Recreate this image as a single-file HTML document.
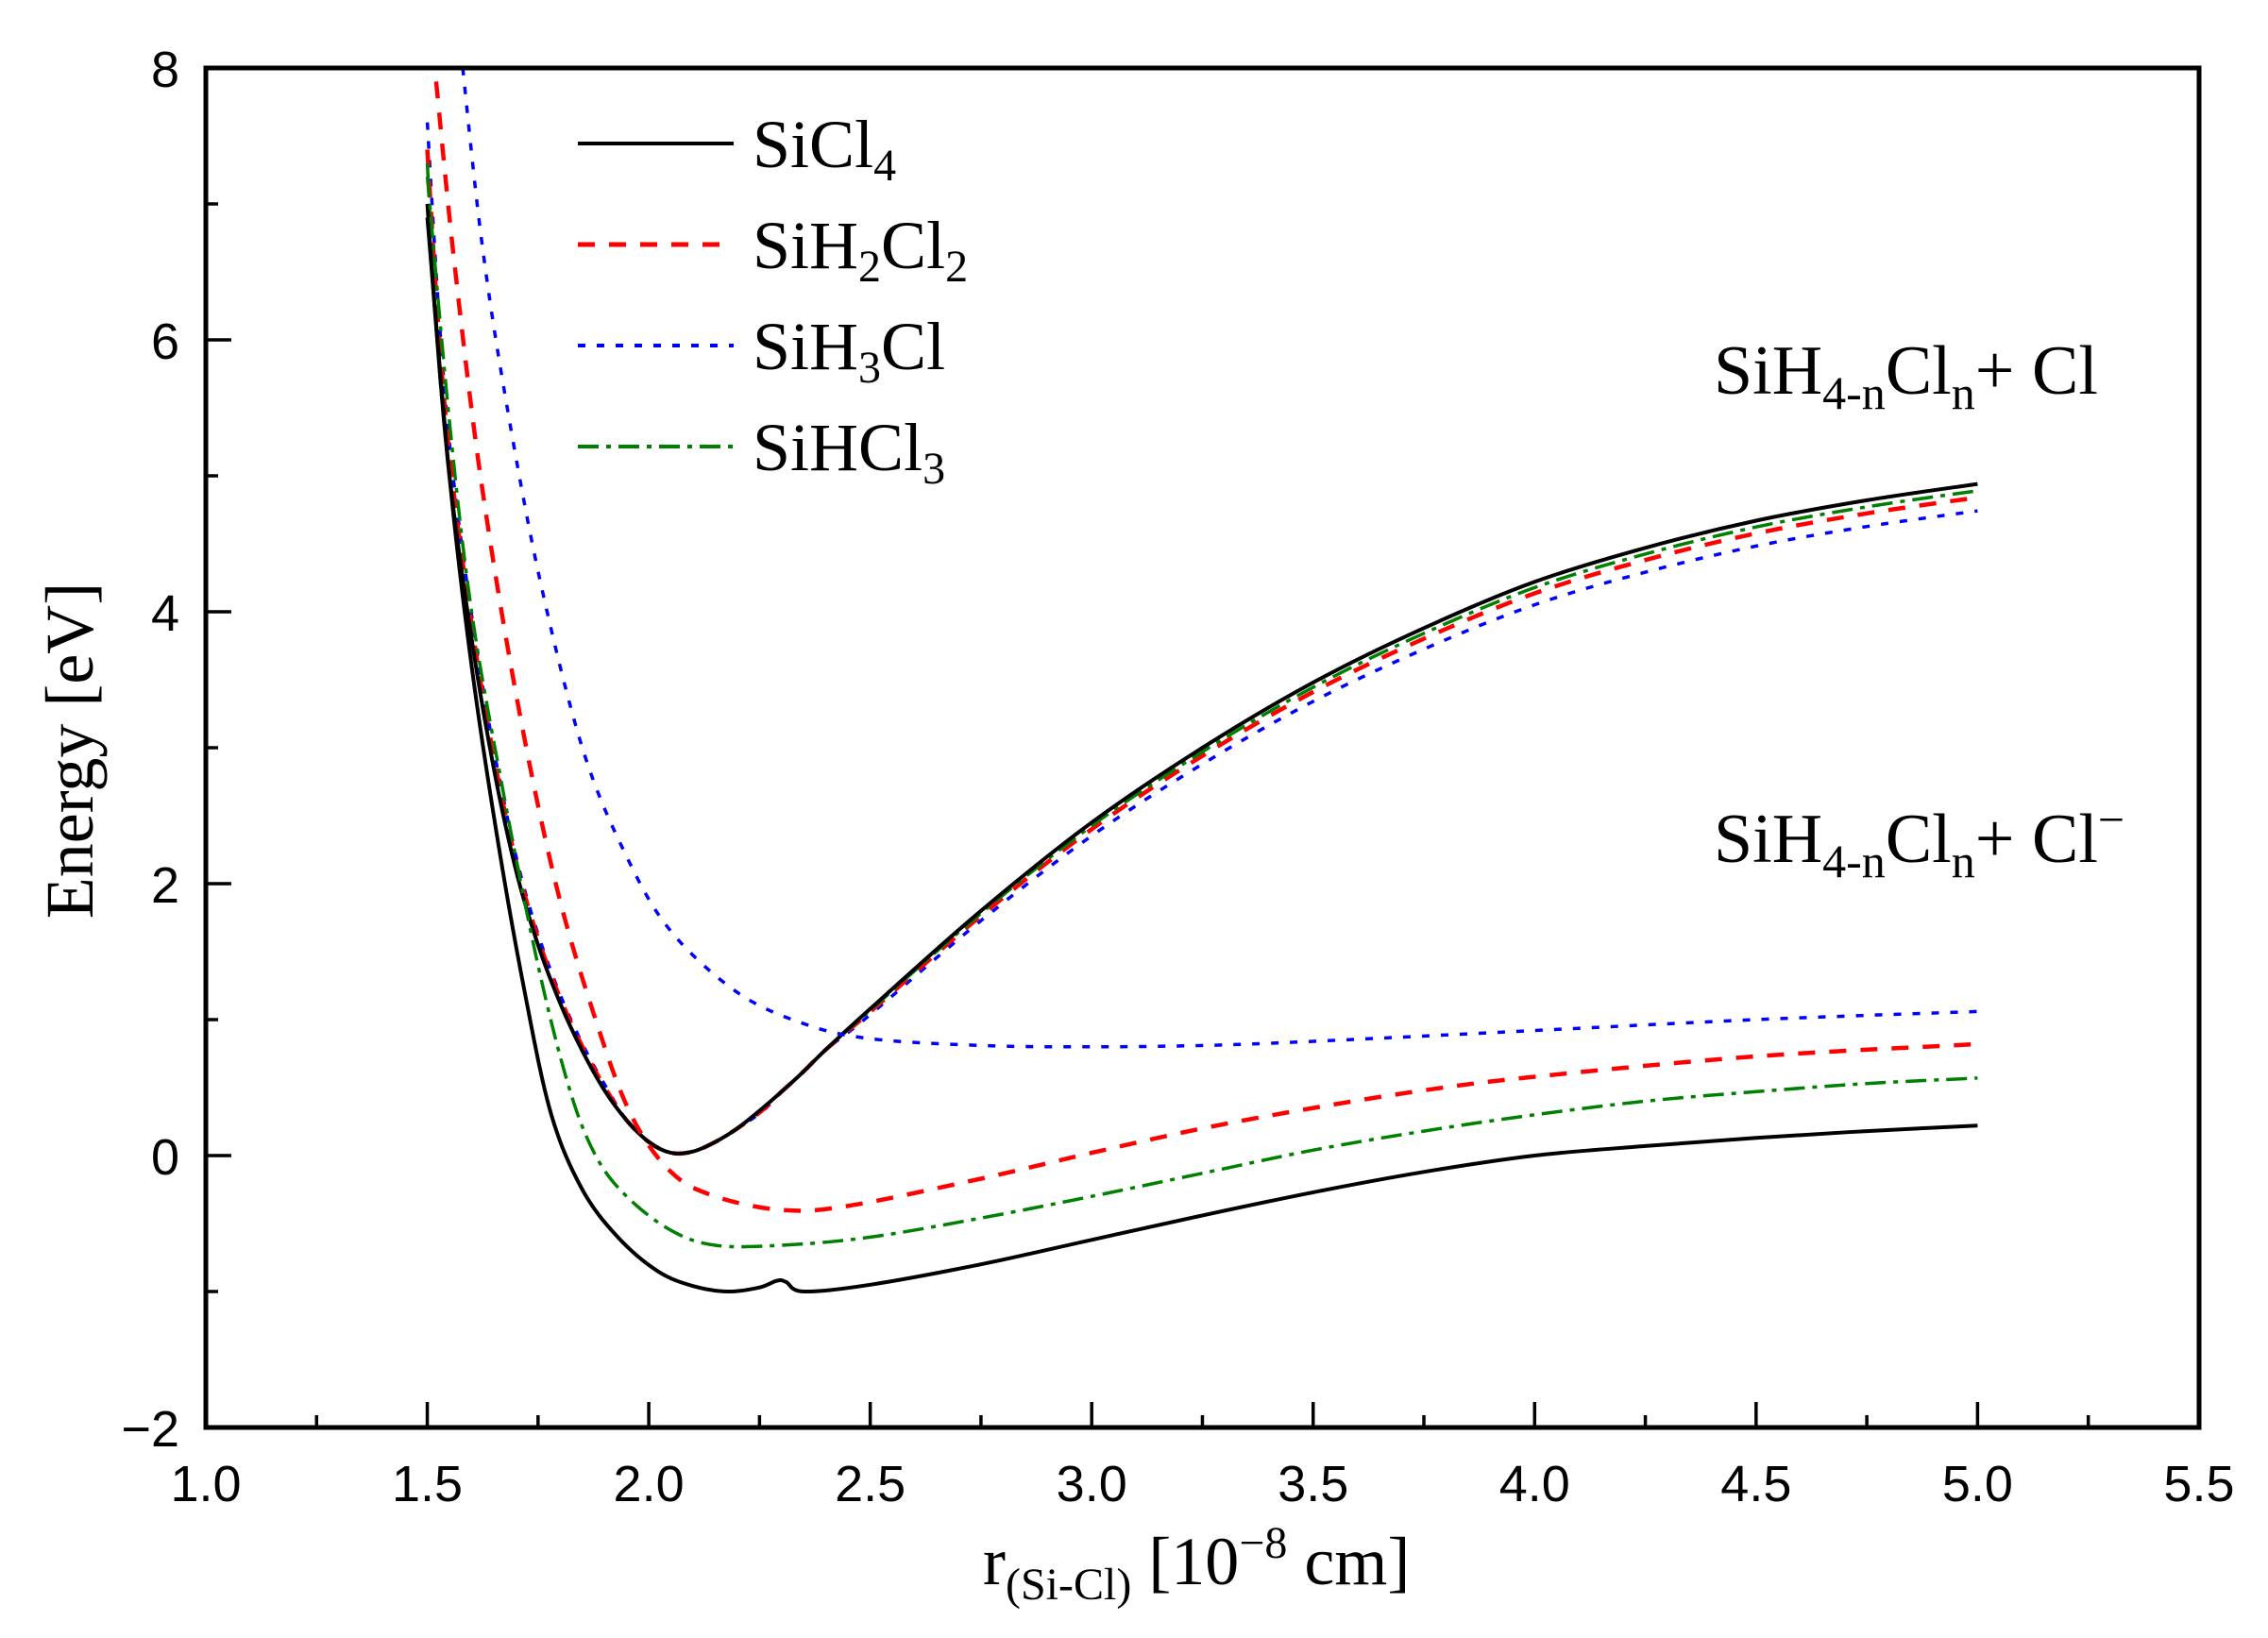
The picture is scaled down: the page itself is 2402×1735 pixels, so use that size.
<!DOCTYPE html>
<html><head><meta charset="utf-8"><style>
html,body{margin:0;padding:0;background:#fff;}
svg{display:block;}
text{font-family:"Liberation Serif",serif;fill:#000;}
.tk{font-family:"Liberation Sans",sans-serif;font-size:54px;}
</style></head><body>
<svg id="s" width="2402" height="1735" viewBox="0 0 2402 1735" xmlns="http://www.w3.org/2000/svg">
<g id="curves" fill="none" stroke-width="3.5" stroke-linejoin="round"></g>
<rect x="218" y="72" width="2111" height="1440" fill="none" stroke="#000" stroke-width="5"/>
<g id="ticks" stroke="#000" stroke-width="3.5"></g>
<g id="labels"></g>
<line x1="612" y1="152" x2="777" y2="152" stroke="#000" stroke-width="4"/>
<line x1="612" y1="259" x2="777" y2="259" stroke="#f00" stroke-width="5" stroke-dasharray="18,15"/>
<line x1="612" y1="366" x2="777" y2="366" stroke="#00f" stroke-width="4" stroke-dasharray="8,12"/>
<line x1="612" y1="473" x2="777" y2="473" stroke="#008000" stroke-width="4" stroke-dasharray="22,8,5,8"/>
<text x="797" y="177" font-size="72">SiCl<tspan font-size="48" dy="14">4</tspan></text>
<text x="797" y="284" font-size="72">SiH<tspan font-size="48" dy="14">2</tspan><tspan dy="-14">Cl</tspan><tspan font-size="48" dy="14">2</tspan></text>
<text x="797" y="391" font-size="72">SiH<tspan font-size="48" dy="14">3</tspan><tspan dy="-14">Cl</tspan></text>
<text x="797" y="498" font-size="72">SiHCl<tspan font-size="48" dy="14">3</tspan></text>
<text x="1815" y="417" font-size="74">SiH<tspan font-size="50" dy="16">4-n</tspan><tspan dy="-16">Cl</tspan><tspan font-size="50" dy="16">n</tspan><tspan dy="-16">+ Cl</tspan></text>
<text x="1815" y="913" font-size="74">SiH<tspan font-size="50" dy="16">4-n</tspan><tspan dy="-16">Cl</tspan><tspan font-size="50" dy="16">n</tspan><tspan dy="-16">+ Cl</tspan><tspan font-size="50" dy="-28">−</tspan></text>
<text x="1041" y="1678" font-size="72">r<tspan font-size="48" dy="16">(Si-Cl)</tspan><tspan dy="-16"> [10</tspan><tspan font-size="48" dy="-28">−8</tspan><tspan dy="28"> cm]</tspan></text>
<text transform="translate(98,795) rotate(-90)" text-anchor="middle" font-size="72">Energy [eV]</text>
</svg>
<script>
var X=function(r){return 218+(r-1)*469.1;}, Y=function(e){return 72+(8-e)*144;};
var ns="http://www.w3.org/2000/svg";
function el(t,a,p){var e=document.createElementNS(ns,t);for(var k in a)e.setAttribute(k,a[k]);p.appendChild(e);return e;}
var T=document.getElementById('ticks'),L=document.getElementById('labels'),C=document.getElementById('curves');
for(var i=0;i<=18;i++){var r=1+i*0.25,x=X(r),maj=i%2==0;
 el('line',{x1:x,y1:1512,x2:x,y2:1512-(maj?27:13)},T);
 if(maj){var t=el('text',{x:x,y:1590,'text-anchor':'middle','class':'tk'},L);t.textContent=r.toFixed(1);}}
for(var e=-2;e<=8;e++){var y=Y(e),maj=e%2==0;
 el('line',{x1:218,y1:y,x2:218+(maj?27:13),y2:y},T);
 if(maj){var t=el('text',{x:190,y:y+20,'text-anchor':'end','class':'tk'},L);t.textContent=(e<0?'−':'')+Math.abs(e);}}
function path(pts){var p=pts.map(function(q){return [X(q[0]),Y(q[1])];});
 var d='M'+p[0][0].toFixed(1)+','+p[0][1].toFixed(1);
 for(var i=0;i<p.length-1;i++){var p0=p[Math.max(0,i-1)],p1=p[i],p2=p[i+1],p3=p[Math.min(p.length-1,i+2)];
  var c1=[p1[0]+(p2[0]-p0[0])/6,p1[1]+(p2[1]-p0[1])/6],c2=[p2[0]-(p3[0]-p1[0])/6,p2[1]-(p3[1]-p1[1])/6];
  d+='C'+c1[0].toFixed(1)+','+c1[1].toFixed(1)+' '+c2[0].toFixed(1)+','+c2[1].toFixed(1)+' '+p2[0].toFixed(1)+','+p2[1].toFixed(1);}
 return d;}
var neutralL=[[1.52,6.1],[1.55,5.0],[1.6,3.8],[1.65,2.85],[1.7,2.1],[1.75,1.55],[1.8,1.12],[1.85,0.77],[1.9,0.48],[1.95,0.26],[2.0,0.1],[2.05,0.02],[2.1,0.03],[2.15,0.1],[2.2,0.2],[2.25,0.33]];
var neutralR=[[2.3,0.47],[2.35,0.62],[2.4,0.78],[2.5,1.08],[2.75,1.8],[3.0,2.45],[3.25,3.0],[3.5,3.48],[3.75,3.88],[4.0,4.22],[4.25,4.47],[4.5,4.67],[4.75,4.82],[5.0,4.94]];
function neutral(start,f,dx){return [[1.5,start]].concat(neutralL.map(function(q){return [q[0]+dx*(q[1]>0.3?1:0),q[1]];}),neutralR.map(function(q){return [q[0],q[1]*(q[0]<2.45?1:f)];}));}
var S={blk:{c:'#000',da:'none'},red:{c:'#f00',da:'18,15'},blu:{c:'#00f',da:'8,12'},grn:{c:'#008000',da:'22,8,5,8'}};
var curves=[
 ['blu',neutral(7.6,0.96,0.008)],
 ['red',neutral(7.4,0.98,0.005)],
 ['grn',neutral(7.3,0.99,0)],
 ['blk',neutral(7.0,1.0,0)],
 ['blu',[[1.58,8.0],[1.62,6.8],[1.67,5.7],[1.75,4.3],[1.85,3.0],[1.95,2.2],[2.05,1.65],[2.2,1.2],[2.35,0.97],[2.5,0.86],[2.75,0.81],[3.0,0.8],[3.25,0.81],[3.5,0.84],[4.0,0.92],[4.5,1.0],[5.0,1.06]]],
 ['red',[[1.52,7.9],[1.56,6.6],[1.62,5.0],[1.7,3.4],[1.79,2.0],[1.88,1.0],[1.96,0.3],[2.05,-0.12],[2.15,-0.3],[2.3,-0.4],[2.45,-0.37],[2.75,-0.17],[3.0,0.02],[3.25,0.2],[3.5,0.35],[3.75,0.48],[4.0,0.58],[4.5,0.73],[5.0,0.82]]],
 ['grn',[[1.5,7.2],[1.55,5.4],[1.6,4.0],[1.67,2.7],[1.75,1.4],[1.82,0.5],[1.88,0.0],[1.95,-0.3],[2.05,-0.55],[2.15,-0.66],[2.3,-0.66],[2.5,-0.6],[2.75,-0.46],[3.0,-0.3],[3.25,-0.13],[3.5,0.04],[3.75,0.18],[4.0,0.3],[4.25,0.4],[4.5,0.47],[4.75,0.53],[5.0,0.57]]],
 ['blk',[[1.5,6.9],[1.55,5.0],[1.6,3.6],[1.66,2.3],[1.72,1.2],[1.78,0.3],[1.85,-0.25],[1.93,-0.6],[2.02,-0.85],[2.1,-0.96],[2.18,-1.0],[2.25,-0.97],[2.29,-0.92],[2.31,-0.93],[2.35,-1.0],[2.5,-0.95],[2.75,-0.8],[3.0,-0.62],[3.25,-0.44],[3.5,-0.27],[3.75,-0.12],[4.0,0.0],[4.25,0.07],[4.5,0.13],[4.75,0.18],[5.0,0.22]]]
];
curves.forEach(function(cv){var s=S[cv[0]];
 el('path',{d:path(cv[1]),stroke:s.c,'stroke-dasharray':s.da,'stroke-width':cv[0]=='blk'?4:(cv[0]=='red'?4.5:3.5)},C);});
</script>
</body></html>
